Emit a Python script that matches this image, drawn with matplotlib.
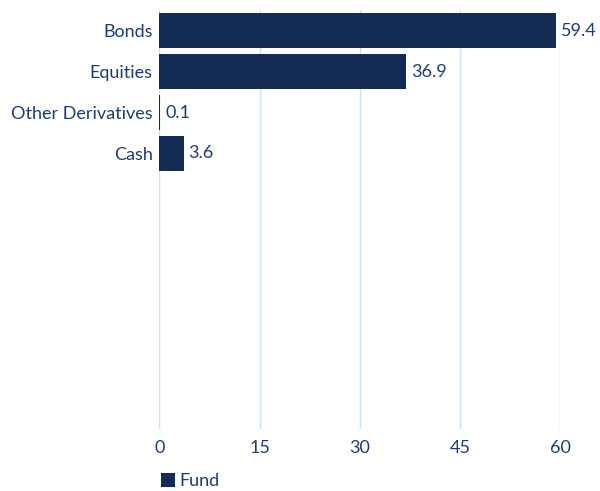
import matplotlib
matplotlib.use("Agg")
import matplotlib.pyplot as plt
from matplotlib.patches import Patch

categories = ["Bonds", "Equities", "Other Derivatives", "Cash"]
values = [59.4, 36.9, 0.1, 3.6]
xticks = [0, 15, 30, 45, 60]
series_name = "Fund"

bar_color = "#142c55"
text_color = "#1b3c78"
grid_color = "#c6e2ee"

plt.rcParams['font.family'] = ['Lato', 'DejaVu Sans']
fs = 13

fig = plt.figure(figsize=(6.0, 4.91), dpi=100)
ax = fig.add_axes([0.2658, 0.1263, 0.6675, 0.8533])

pos = list(range(len(categories)))
ax.barh(pos, values, height=0.85, color=bar_color, zorder=3)
for p, v in zip(pos, values):
    ax.text(v + 0.75, p, f"{v:.1f}", va="center", ha="left", fontsize=fs, color=text_color)

ax.set_xlim(0, 60)
ax.set_ylim(9.72, -0.5)
ax.set_xticks(xticks)
ax.set_xticklabels([str(t) for t in xticks])
ax.set_yticks(pos)
ax.set_yticklabels(categories)
ax.tick_params(axis="both", length=0, labelsize=fs, labelcolor=text_color)
ax.tick_params(axis="x", pad=8)
ax.tick_params(axis="y", pad=5)
ax.grid(axis="x", color=grid_color, linewidth=1.0, zorder=0)
for s in ax.spines.values():
    s.set_visible(False)

handles = [Patch(facecolor=bar_color, label=series_name)]
fig.legend(handles=handles, loc="lower left", bbox_to_anchor=(161 / 600, 2 / 491), frameon=False,
           fontsize=fs, labelcolor=text_color, handlelength=0.8, handleheight=0.8,
           handletextpad=0.2, borderpad=0.0, borderaxespad=0.0)

fig.savefig("out.png", dpi=100)
